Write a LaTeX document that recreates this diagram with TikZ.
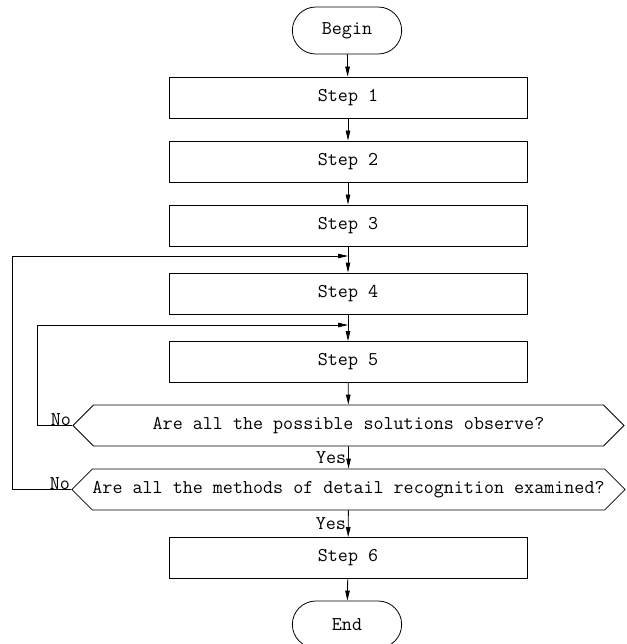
\documentclass[tikz,border=0pt]{standalone}
\usepackage{fontspec}
\usetikzlibrary{shapes.misc, shapes.symbols, arrows.meta}

\begin{document}
\begin{tikzpicture}[x=1pt, y=-1pt, line width=0.8pt,
    font=\ttfamily\fontsize{19.5}{22}\selectfont,
    flow/.style={-{Triangle[length=10pt, width=4.5pt]}},
    terminal/.style={rounded rectangle, draw, minimum width=116pt, minimum height=47pt},
    stepbox/.style={rectangle, draw, minimum width=358pt, minimum height=41pt},
    query/.style={signal, signal to=west and east, signal pointer angle=90, draw,
        minimum width=551pt, minimum height=41pt, inner sep=0pt}]
    \useasboundingbox (0,0) rectangle (626,644);

    % Begin and steps
    \node[terminal] (begin) at (347, 30.5) {Begin};
    \node[stepbox] (s1) at (348, 97.5) {Step 1};
    \node[stepbox] (s2) at (348, 161.5) {Step 2};
    \node[stepbox] (s3) at (348, 225.5) {Step 3};
    \node[stepbox] (s4) at (348, 293.5) {Step 4};
    \node[stepbox] (s5) at (348, 362) {Step 5};

    % Decisions
    \node[query] (q1) at (348.5, 425.5) {Are all the possible solutions observe?};
    \node[query] (q2) at (348.5, 489.5) {Are all the methods of detail recognition examined?};

    % Last step and end
    \node[stepbox] (s6) at (348, 558) {Step 6};
    \node[terminal] (end) at (347, 624.5) {End};

    % Junctions for the loops
    \coordinate (j4) at (348, 256);
    \coordinate (j5) at (348, 325);

    % Edges
    \draw[flow] (begin) -- (s1);
    \draw[flow] (s1) -- (s2);
    \draw[flow] (s2) -- (s3);
    \draw[flow] (s3) -- (s4);
    \draw[flow] (s4) -- (s5);
    \draw[flow] (s5) -- (q1);
    \draw[flow] (q1) -- node[left, inner sep=2pt] {Yes} (q2);
    \draw[flow] (q2) -- node[left, inner sep=2pt] {Yes} (s6);
    \draw[flow] (s6) -- (end);

    % Loops back
    \draw[flow] (q1.west) -- ++(-35,0) |- (j5);
    \draw[flow] (q2.west) -- ++(-59,0) |- (j4);
    \node[anchor=south east, inner sep=1pt] at ([yshift=-2pt]q1.west) {No};
    \node[anchor=south east, inner sep=1pt] at ([yshift=-2pt]q2.west) {No};
\end{tikzpicture}
\end{document}
